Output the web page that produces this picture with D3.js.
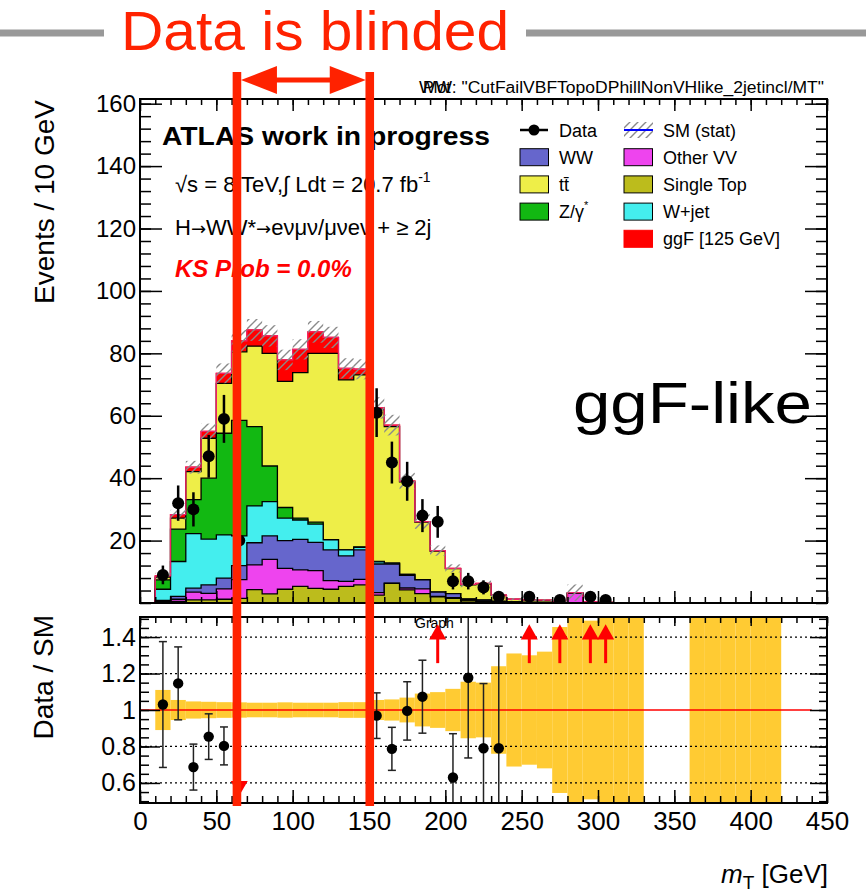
<!DOCTYPE html>
<html>
<head>
<meta charset="utf-8">
<script src="https://cdn.jsdelivr.net/npm/d3@7"></script>
<style>
  body { margin: 0; background: #fff; }
  svg { display: block; }
  text { font-family: "Liberation Sans", Arial, sans-serif; fill: #000; }
</style>
</head>
<body>
<svg id="chart" width="868" height="892"></svg>
<script>
// ---------------- DATA ----------------

// lower bin edges in GeV, 10 GeV bins
const binLow = [0,10,20,30,40,50,60,70,80,90,100,110,120,130,140,150,160,170,180,190,
  200,210,220,230,240,250,260,270,280,290,300,310,320,330,340,350,360,370,380,390,
  400,410,420,430,440];

// stacked MC contributions (events / bin), bottom to top
const singleTop = [0,0.2,0.5,1.0,1.0,1.2,1.5,4.3,2.9,4.4,5.3,4.7,4.4,5.3,5.8,2.5,6.3,4.2,3.0,2.0,
  1.5,0.7,0.5,0.3,0.2,0.1,0.1,0.05,0.1,0.05,0,0,0,0,0,0,0,0,0,0,0,0,0,0,0];
const otherVV = [0,0.3,0.7,2.5,2.1,3.3,6.0,7.9,11.1,6.7,5.3,5.7,2.8,1.6,1.8,0.8,0.1,0.6,1.5,0.1,
  0.2,0.1,0.1,0.05,0.05,0.05,0.05,0.05,3.0,0.05,0.05,0,0,0,0,0,0,0,0,0,0,0,0,0,0];
const WW = [0,0.3,0.9,1.25,2.7,3.5,4.5,7.1,7.5,8.9,9.8,9.0,9.8,8.2,9.4,9.2,6.1,4.1,2.9,1.4,
  1.3,0.4,0.3,0.15,0.05,0.05,0.05,0,0,0,0,0,0,0,0,0,0,0,0,0,0,0,0,0,0];
const Wjet = [0,3.6,11.2,17.45,14.7,13.8,9.5,11.8,11.0,7.2,6.2,5.9,3.2,1.9,0.8,0.7,0.3,0.3,0.1,0,
  0,0,0,0,0,0,0,0,0,0,0,0,0,0,0,0,0,0,0,0,0,0,0,0,0];
const Zgamma = [0,3.0,10.4,10.9,19.5,32.6,37.0,25.4,11.4,3.4,0.6,0.6,0.1,0,0.2,0.1,0,0,0,0,
  0,0,0,0,0,0,0,0,0,0,0,0,0,0,0,0,0,0,0,0,0,0,0,0,0];
const ttbar = [0,0.9,3.5,9.0,12.8,16.0,22.0,25.8,36.1,40.4,46.6,54.1,59.7,54.5,55.1,48.7,43.7,29.6,18.4,13.1,
  8.0,4.65,5.25,1.95,0.85,0.75,0.65,0.35,0.2,0.28,0.15,0.1,0.1,0,0,0,0.05,0.05,0.05,0.05,0.05,0.05,0,0,0];
const ggF = [0,0.4,1.1,1.4,2.2,3.2,3.5,5.2,5.6,6.9,7.5,6.9,5.1,3.7,1.8,0.5,0.5,0.3,0.2,0.2,
  0.1,0.1,0.15,0.05,0.05,0.05,0.05,0.05,0,0.02,0,0,0,0,0,0,0,0,0,0,0,0,0,0,0];

// relative MC stat uncertainty per bin (hatched band / yellow ratio band)
const statErr = [0,0.11,0.055,0.047,0.045,0.043,0.042,0.04,0.04,0.042,0.04,0.04,0.04,0.043,0.043,0.055,0.058,0.068,0.09,0.098,
  0.116,0.155,0.15,0.24,0.31,0.30,0.32,0.455,0.8,0.49,1,1,1,0,0,0,1,1,1,1,1,1,0,0,0];

// data (bin centres, events, error)
const dataX   = [15,25,35,45,55,65,155,165,175,185,195,205,215,225,235,255,275,295,305];
const dataY   = [9,32,30,47,59,20,61,45,39,28,26,7,7,5,2,2,1,2,1];
const dataErr = [3,5.66,5.48,6.86,7.68,4.47,7.81,6.71,6.24,5.29,5.1,2.65,2.65,2.24,1.41,1.41,1,1.41,1];

// ratio panel
const ratioX   = [15,25,35,45,55,155,165,175,185,205,215,225,235];
const ratioY   = [1.03,1.146,0.687,0.854,0.803,0.969,0.787,0.995,1.073,0.63,1.177,0.79,0.79];
const ratioErr = [0.345,0.2,0.126,0.125,0.104,0.125,0.118,0.16,0.2,0.24,0.44,0.355,0.56];
const arrowUpX = [195,255,275,295,305];
const arrowDownX = [65];

// ticks
const xTicks = [0,50,100,150,200,250,300,350,400,450];
const yMainTicks = [20,40,60,80,100,120,140,160];
const yRatioTicks = [0.6,0.8,1,1.2,1.4];

// blinded window edges (GeV)
const blindEdges = [63.5,150.5];

// ---------------- SETUP ----------------
const keys = ["singleTop","otherVV","WW","Wjet","Zgamma","ttbar","ggF"];
const seriesByKey = { singleTop, otherVV, WW, Wjet, Zgamma, ttbar, ggF };
const colors = {
  singleTop: "#bcbc1c", otherVV: "#ee44ee", WW: "#6666cc", Wjet: "#44eeee",
  Zgamma: "#12b812", ttbar: "#eeee48", ggF: "#ff0000"
};

const svg = d3.select("#chart");
const W0 = 140, W1 = 827;
const mainTop = 99, mainBot = 603, ratTop = 617, ratBot = 803;

const x = d3.scaleLinear().domain([0, 450]).range([W0, W1]);
const y = d3.scaleLinear().domain([0, 161.5]).range([mainBot, mainTop]);
const yr = d3.scaleLinear().domain([0.49, 1.51]).range([ratBot, ratTop]);

const defs = svg.append("defs");
defs.append("clipPath").attr("id", "clipMain").append("rect")
  .attr("x", W0).attr("y", mainTop).attr("width", W1 - W0).attr("height", mainBot - mainTop);
defs.append("clipPath").attr("id", "clipRatio").append("rect")
  .attr("x", W0).attr("y", ratTop).attr("width", W1 - W0).attr("height", ratBot - ratTop);
const hatch = defs.append("pattern").attr("id", "hatch")
  .attr("patternUnits", "userSpaceOnUse").attr("width", 8).attr("height", 8);
hatch.append("path").attr("d", "M-2,2 L2,-2 M0,8 L8,0 M6,10 L10,6")
  .attr("stroke", "#8a8a8a").attr("stroke-width", 1.4);

const rows = binLow.map((lo, i) => {
  const r = { lo, hi: lo + 10 };
  keys.forEach(k => r[k] = seriesByKey[k][i]);
  return r;
});
const stacked = d3.stack().keys(keys)(rows);
const total = stacked[stacked.length - 1].map(d => d[1]);

function stepPts(layer) {
  const pts = [];
  layer.forEach((d, i) => { pts.push([rows[i].lo, d[1]]); pts.push([rows[i].hi, d[1]]); });
  return pts;
}
const area = d3.area().x(p => x(p[0])).y0(y(0)).y1(p => y(p[1]));
const line = d3.line().x(p => x(p[0])).y(p => y(p[1]));

// ---------------- MAIN PANEL ----------------
const gStack = svg.append("g").attr("clip-path", "url(#clipMain)");
stacked.slice().reverse().forEach(layer => {
  const pts = stepPts(layer);
  gStack.append("path").attr("d", area(pts)).attr("fill", colors[layer.key]);
  gStack.append("path").attr("d", line(pts)).attr("fill", "none")
    .attr("stroke", layer.key === "ggF" ? "#f00" : "#000").attr("stroke-width", 1.3);
});
// outer envelope in red
gStack.append("path").attr("d", line(stepPts(stacked[stacked.length - 1])))
  .attr("fill", "none").attr("stroke", "#f0206a").attr("stroke-width", 1.3);

// hatched stat band
gStack.selectAll("rect.hatch").data(rows.filter((r, i) => total[i] > 0 && statErr[i] > 0))
  .join("rect")
  .attr("x", r => x(r.lo)).attr("width", r => x(r.hi) - x(r.lo))
  .attr("y", r => { const i = binLow.indexOf(r.lo); return y(total[i] * (1 + statErr[i])); })
  .attr("height", r => { const i = binLow.indexOf(r.lo); return y(total[i] * (1 - statErr[i])) - y(total[i] * (1 + statErr[i])); })
  .attr("fill", "url(#hatch)");

// data points
const gData = svg.append("g").attr("clip-path", "url(#clipMain)");
dataX.forEach((cx, i) => {
  gData.append("line").attr("x1", x(cx)).attr("x2", x(cx))
    .attr("y1", y(dataY[i] - dataErr[i])).attr("y2", y(dataY[i] + dataErr[i]))
    .attr("stroke", "#000").attr("stroke-width", 2.5);
  gData.append("circle").attr("cx", x(cx)).attr("cy", y(dataY[i])).attr("r", 6).attr("fill", "#000");
});

// main frame + ticks
function tickAxis(gen, transform, vals, size) {
  const g = svg.append("g").attr("transform", transform)
    .call(gen.tickValues(vals).tickSize(size).tickFormat(""));
  g.select(".domain").remove();
  g.selectAll(".tick line").attr("stroke", "#000").attr("stroke-width", 1.5);
  return g;
}
const minorX = d3.range(0, 451, 10);
const minorY = d3.range(0, 161, 4);
tickAxis(d3.axisBottom(x), `translate(0,${mainBot})`, minorX, -6);
tickAxis(d3.axisBottom(x), `translate(0,${mainBot})`, xTicks, -12);
tickAxis(d3.axisTop(x), `translate(0,${mainTop})`, minorX, -6);
tickAxis(d3.axisTop(x), `translate(0,${mainTop})`, xTicks, -12);
tickAxis(d3.axisLeft(y), `translate(${W0},0)`, minorY, -11);
tickAxis(d3.axisRight(y), `translate(${W1},0)`, minorY, -11);
tickAxis(d3.axisRight(y), `translate(${W1},0)`, yMainTicks, -22);

const yAxMain = svg.append("g").attr("transform", `translate(${W0},0)`)
  .call(d3.axisLeft(y).tickValues(yMainTicks).tickSize(-22).tickPadding(4));
yAxMain.select(".domain").remove();
yAxMain.selectAll(".tick line").attr("stroke", "#000").attr("stroke-width", 1.5);
yAxMain.selectAll(".tick text").attr("font-size", 24).attr("font-family", "Liberation Sans, Arial, sans-serif").attr("fill", "#000");

svg.append("rect").attr("x", W0).attr("y", mainTop).attr("width", W1 - W0).attr("height", mainBot - mainTop)
  .attr("fill", "none").attr("stroke", "#000").attr("stroke-width", 2);

// ---------------- RATIO PANEL ----------------
const gRat = svg.append("g").attr("clip-path", "url(#clipRatio)");
rows.forEach((r, i) => {
  if (!(total[i] > 0 && statErr[i] > 0)) return;
  gRat.append("rect").attr("x", x(r.lo)).attr("width", x(r.hi) - x(r.lo))
    .attr("y", yr(1 + statErr[i])).attr("height", yr(1 - statErr[i]) - yr(1 + statErr[i]))
    .attr("fill", "#ffcb33");
});
[0.6, 0.8, 1.2, 1.4].forEach(v => {
  gRat.append("line").attr("x1", W0).attr("x2", W1).attr("y1", yr(v)).attr("y2", yr(v))
    .attr("stroke", "#000").attr("stroke-width", 1.2).attr("stroke-dasharray", "2,3");
});
gRat.append("line").attr("x1", x(0)).attr("x2", x(440)).attr("y1", yr(1)).attr("y2", yr(1))
  .attr("stroke", "#f00").attr("stroke-width", 1.5);

ratioX.forEach((cx, i) => {
  const lo = ratioY[i] - ratioErr[i], hi = ratioY[i] + ratioErr[i];
  gRat.append("line").attr("x1", x(cx)).attr("x2", x(cx)).attr("y1", yr(lo)).attr("y2", yr(hi))
    .attr("stroke", "#222").attr("stroke-width", 1.5);
  [lo, hi].forEach(v => gRat.append("line").attr("x1", x(cx) - 4).attr("x2", x(cx) + 4)
    .attr("y1", yr(v)).attr("y2", yr(v)).attr("stroke", "#222").attr("stroke-width", 1.5));
  gRat.append("circle").attr("cx", x(cx)).attr("cy", yr(ratioY[i])).attr("r", 5.2).attr("fill", "#000");
});

svg.append("text").attr("x", 415).attr("y", 628).attr("font-size", 14).text("Graph");

arrowUpX.forEach(cx => {
  const px = x(cx);
  svg.append("line").attr("x1", px).attr("x2", px).attr("y1", yr(1.257)).attr("y2", yr(1.39))
    .attr("stroke", "#f00").attr("stroke-width", 3);
  svg.append("path").attr("d", `M${px - 8.5},${yr(1.387)} L${px + 8.5},${yr(1.387)} L${px},${yr(1.47)} Z`)
    .attr("fill", "#f00");
});
arrowDownX.forEach(cx => {
  const px = x(cx);
  svg.append("line").attr("x1", px).attr("x2", px).attr("y1", yr(0.74)).attr("y2", yr(0.6))
    .attr("stroke", "#f00").attr("stroke-width", 3);
  svg.append("path").attr("d", `M${px - 8.5},${yr(0.61)} L${px + 8.5},${yr(0.61)} L${px},${yr(0.53)} Z`)
    .attr("fill", "#f00");
});

const minorR = d3.range(0.5, 1.51, 0.05);
tickAxis(d3.axisTop(x), `translate(0,${ratTop})`, minorX, -6);
tickAxis(d3.axisTop(x), `translate(0,${ratTop})`, xTicks, -9);
tickAxis(d3.axisBottom(x), `translate(0,${ratBot})`, minorX, -7);
tickAxis(d3.axisLeft(yr), `translate(${W0},0)`, minorR, -9);
tickAxis(d3.axisRight(yr), `translate(${W1},0)`, minorR, -8);
tickAxis(d3.axisRight(yr), `translate(${W1},0)`, yRatioTicks, -17);

const xAx = svg.append("g").attr("transform", `translate(0,${ratBot})`)
  .call(d3.axisBottom(x).tickValues(xTicks).tickSize(-13).tickPadding(9));
xAx.select(".domain").remove();
xAx.selectAll(".tick line").attr("stroke", "#000").attr("stroke-width", 1.5);
xAx.selectAll(".tick text").attr("font-size", 26).attr("font-family", "Liberation Sans, Arial, sans-serif").attr("fill", "#000");

const yAxR = svg.append("g").attr("transform", `translate(${W0},0)`)
  .call(d3.axisLeft(yr).tickValues(yRatioTicks).tickSize(-20).tickPadding(4).tickFormat(d => String(d)));
yAxR.select(".domain").remove();
yAxR.selectAll(".tick line").attr("stroke", "#000").attr("stroke-width", 1.5);
yAxR.selectAll(".tick text").attr("font-size", 25).attr("font-family", "Liberation Sans, Arial, sans-serif").attr("fill", "#000");

svg.append("rect").attr("x", W0).attr("y", ratTop).attr("width", W1 - W0).attr("height", ratBot - ratTop)
  .attr("fill", "none").attr("stroke", "#000").attr("stroke-width", 2);

// ---------------- AXIS TITLES ----------------
svg.append("text").attr("transform", "translate(54,100) rotate(-90)").attr("text-anchor", "end")
  .attr("font-size", 28).text("Events / 10 GeV");
svg.append("text").attr("transform", "translate(53,615) rotate(-90)").attr("text-anchor", "end")
  .attr("font-size", 28).text("Data / SM");
const mt = svg.append("text").attr("x", 828).attr("y", 883).attr("text-anchor", "end").attr("font-size", 26);
mt.append("tspan").attr("font-style", "italic").text("m");
mt.append("tspan").attr("font-size", 19).attr("dy", 6).text("T");
mt.append("tspan").attr("dy", -6).text(" [GeV]");

// ---------------- LEGEND ----------------
const legLeft = [
  { label: "Data", type: "data" },
  { label: "WW", key: "WW" },
  { label: "tt\u0304", key: "ttbar" },
  { label: "Z/\u03b3", key: "Zgamma", sup: "*" }
];
const legRight = [
  { label: "SM (stat)", type: "stat" },
  { label: "Other VV", key: "otherVV" },
  { label: "Single Top", key: "singleTop" },
  { label: "W+jet", key: "Wjet" },
  { label: "ggF [125 GeV]", key: "ggF" }
];
function drawLegend(items, bx, tx) {
  items.forEach((it, i) => {
    const cy = 130 + i * 27.2;
    if (it.type === "data") {
      svg.append("line").attr("x1", bx).attr("x2", bx + 28).attr("y1", cy).attr("y2", cy)
        .attr("stroke", "#000").attr("stroke-width", 2.5);
      svg.append("circle").attr("cx", bx + 14).attr("cy", cy).attr("r", 5.5).attr("fill", "#000");
    } else if (it.type === "stat") {
      svg.append("rect").attr("x", bx).attr("y", cy - 8).attr("width", 29).attr("height", 16).attr("fill", "url(#hatch)");
      svg.append("line").attr("x1", bx).attr("x2", bx + 29).attr("y1", cy).attr("y2", cy)
        .attr("stroke", "#0000ff").attr("stroke-width", 2);
    } else {
      svg.append("rect").attr("x", bx).attr("y", cy - 8.5).attr("width", 28.5).attr("height", 17)
        .attr("fill", colors[it.key]).attr("stroke", it.key === "ggF" ? colors.ggF : "#000").attr("stroke-width", 1);
    }
    const t = svg.append("text").attr("x", tx).attr("y", cy + 6.5).attr("font-size", 18).text(it.label);
    if (it.sup) t.append("tspan").attr("font-size", 11).attr("dy", -9).text(it.sup);
  });
}
drawLegend(legLeft, 520, 559);
drawLegend(legRight, 624, 663);

// ---------------- LABELS ----------------
svg.append("text").attr("x", 162).attr("y", 145).attr("font-family", "Lato, sans-serif")
  .attr("font-weight", "bold").attr("font-size", 26).attr("textLength", 328)
  .attr("lengthAdjust", "spacingAndGlyphs").text("ATLAS work in progress");
const lum = svg.append("text").attr("x", 175).attr("y", 192).attr("font-size", 22);
lum.append("tspan").text("\u221as = 8 TeV,\u222b Ldt = 20.7 fb");
lum.append("tspan").attr("font-size", 14).attr("dy", -10).text("-1");

// decay chain, arrows from DejaVu so they keep full width
const chain = svg.append("text").attr("x", 175).attr("y", 235).attr("font-size", 22);
[["H", null], ["\u2192", "arrow"], ["WW*", null], ["\u2192", "arrow"],
 ["e\u03bd\u03bc\u03bd/\u03bc\u03bde\u03bd + \u2265 2j", null]].forEach(([s, kind]) => {
  const ts = chain.append("tspan").text(s);
  if (kind) ts.attr("font-family", "DejaVu Sans, sans-serif").attr("font-size", 18);
});

svg.append("text").attr("x", 175).attr("y", 277).attr("font-size", 24).attr("font-weight", "bold")
  .attr("font-style", "italic").style("fill", "#f00").text("KS Prob = 0.0%");

svg.append("text").attr("x", 573).attr("y", 423).attr("font-family", "Lato, sans-serif")
  .attr("font-size", 57).attr("textLength", 239).attr("lengthAdjust", "spacingAndGlyphs").text("ggF-like");

svg.append("text").attr("x", 419).attr("y", 93).attr("font-size", 16).attr("textLength", 405)
  .attr("lengthAdjust", "spacingAndGlyphs").text("WW: \"CutFailVBFTopoDPhillNonVHlike_2jetincl/MT\"");
svg.append("text").attr("x", 423).attr("y", 93).attr("font-size", 16).text("Plot");

// ---------------- BLINDING OVERLAY ----------------
const blindRed = "#ff2200";
svg.append("line").attr("x1", 0).attr("x2", 104).attr("y1", 33).attr("y2", 33).attr("stroke", "#999").attr("stroke-width", 7);
svg.append("line").attr("x1", 526).attr("x2", 866).attr("y1", 33).attr("y2", 33).attr("stroke", "#999").attr("stroke-width", 7);
svg.append("text").attr("x", 121).attr("y", 50).attr("font-family", "Lato, sans-serif").attr("font-size", 56)
  .attr("textLength", 388).attr("lengthAdjust", "spacingAndGlyphs").style("fill", blindRed).text("Data is blinded");

blindEdges.forEach(e => {
  svg.append("rect").attr("x", x(e) - 4.3).attr("y", 72).attr("width", 8.6).attr("height", 734).attr("fill", blindRed);
});
const ax0 = x(blindEdges[0]) + 4, ax1 = x(blindEdges[1]) - 4;
svg.append("rect").attr("x", ax0 + 20).attr("y", 77.5).attr("width", ax1 - ax0 - 40).attr("height", 5).attr("fill", blindRed);
svg.append("path").attr("d", `M${ax0},80 L${ax0 + 36},66 L${ax0 + 36},94 Z`).attr("fill", blindRed);
svg.append("path").attr("d", `M${ax1},80 L${ax1 - 36},66 L${ax1 - 36},94 Z`).attr("fill", blindRed);
</script>
</body>
</html>
